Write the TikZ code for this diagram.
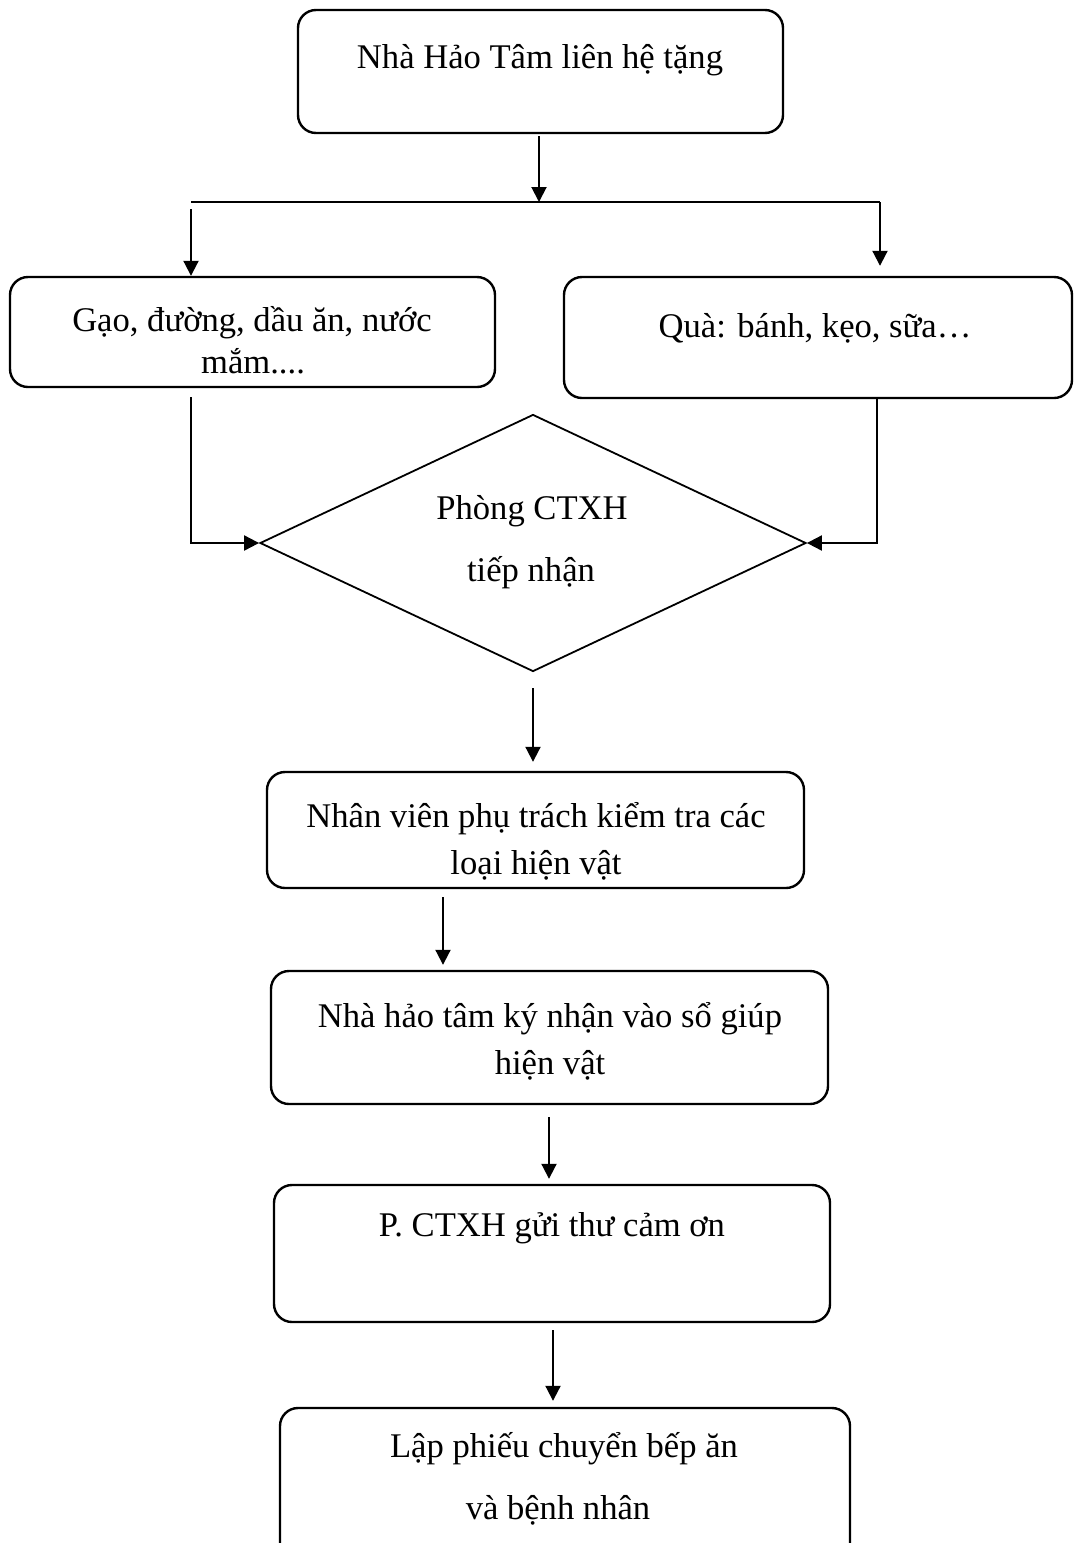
\documentclass[tikz,border=0pt]{standalone}
\usepackage{fontspec}
\setmainfont{Liberation Serif}
\usetikzlibrary{arrows.meta,shapes.geometric,calc}
\newcommand{\fsz}{\fontsize{17.3pt}{20pt}\selectfont}
\tikzset{
  box/.style={draw, line width=1.2pt, rounded corners=9pt, inner sep=0pt},
  lbl/.style={anchor=base, inner sep=0pt, font=\fsz},
  conn/.style={line width=1pt},
  arr/.style={line width=1pt, -{Triangle[length=7.5pt,width=7.5pt]}},
}
\begin{document}
\begin{tikzpicture}[x=0.5pt,y=-0.5pt]
\useasboundingbox (0,0) rectangle (1074,1543);
\fill[white] (0,0) rectangle (1074,1543);
\clip (0,0) rectangle (1074,1543);

% boxes
\node[box, minimum width=242.5pt, minimum height=61.5pt] (top) at (540.5,71.5) {};
\node[box, minimum width=242.5pt, minimum height=55pt] (left) at (252.5,332) {};
\node[box, minimum width=254pt, minimum height=60.5pt] (right) at (818,337.5) {};
\node[diamond, draw, line width=0.9pt, inner sep=0pt, shape aspect=2.12, minimum width=273pt, minimum height=128.5pt] (dia) at (533,543) {};
\node[box, minimum width=268.5pt, minimum height=58pt] (b4) at (535.5,830) {};
\node[box, minimum width=278.5pt, minimum height=66.5pt] (b5) at (549.5,1037.5) {};
\node[box, minimum width=278pt, minimum height=68.5pt] (b6) at (552,1253.5) {};
\node[box, minimum width=285pt, minimum height=81pt] (b7) at (565,1489) {};

% texts
\node[lbl] (t1) at (540,68) {Nhà Hảo Tâm liên hệ tặng};
\node[lbl] (t2a) at (252,331) {Gạo, đường, dầu ăn, nước};
\node[lbl] (t2b) at (253,373) {mắm....};
\node[lbl] (t3) at (815,337) {Quà: bánh, kẹo, sữa…};
\node[lbl] (t4a) at (532,519) {Phòng CTXH};
\node[lbl] (t4b) at (531,581) {tiếp nhận};
\node[lbl] (t5a) at (536,827) {Nhân viên phụ trách kiểm tra các};
\node[lbl] (t5b) at (536,874) {loại hiện vật};
\node[lbl] (t6a) at (550,1027) {Nhà hảo tâm ký nhận vào sổ giúp};
\node[lbl] (t6b) at (550,1074) {hiện vật};
\node[lbl] (t7) at (552,1236) {P. CTXH gửi thư cảm ơn};
\node[lbl] (t8a) at (564,1457) {Lập phiếu chuyển bếp ăn};
\node[lbl] (t8b) at (558,1519) {và bệnh nhân};

% connectors
\coordinate (split) at (539,202);
\coordinate (bl) at (191,202);
\coordinate (br) at (880,202);
\draw[arr] ([yshift=-1pt]top.south -| split) -- (split);
\draw[conn] (bl) -- (br);
\draw[arr] ([yshift=-3.5pt]bl) -- (bl |- left.north);
\draw[arr, shorten >=5pt] (br) -- (br |- right.north);

\coordinate (l1) at (191,397);
\coordinate (r1) at (877,399);
\draw[arr] (l1) -- (l1 |- dia.west) -- (dia.west);
\draw[arr] (r1) -- (r1 |- dia.east) -- (dia.east);

\coordinate (c4) at (533,688);
\draw[arr, shorten >=4.5pt] (c4) -- (c4 |- b4.north);
\coordinate (c5) at (443,897);
\draw[arr, shorten >=2.5pt] (c5) -- (c5 |- b5.north);
\coordinate (c6) at (549,1117);
\draw[arr, shorten >=2.5pt] (c6) -- (c6 |- b6.north);
\coordinate (c7) at (553,1330);
\draw[arr, shorten >=3pt] (c7) -- (c7 |- b7.north);
\end{tikzpicture}
\end{document}
